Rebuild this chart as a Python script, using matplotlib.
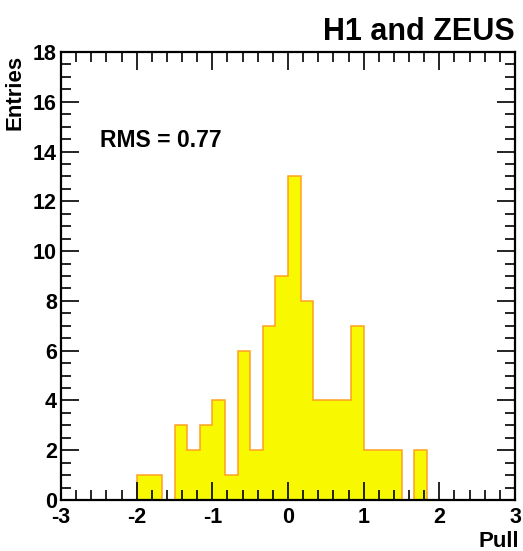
import numpy as np
import matplotlib
matplotlib.use("Agg")
import matplotlib.pyplot as plt
from matplotlib.ticker import MultipleLocator

# ── Data: pull distribution, 36 bins of width 1/6 from -3 to 3 ──────────────
x_range = (-3.0, 3.0)
counts = [0, 0, 0, 0, 0, 0,        # -3 .. -2
          1, 1, 0, 3, 2, 3,        # -2 .. -1
          4, 1, 6, 2, 7, 9,        # -1 .. 0
          13, 8, 4, 4, 4, 7,       # 0 .. 1
          2, 2, 2, 0, 2, 0,        # 1 .. 2
          0, 0, 0, 0, 0, 0]        # 2 .. 3
rms_label = "RMS = 0.77"
title = "H1 and ZEUS"

edges = np.linspace(x_range[0], x_range[1], len(counts) + 1)

plt.rcParams["font.family"] = ["Liberation Sans", "DejaVu Sans"]
plt.rcParams["font.weight"] = "bold"
plt.rcParams["axes.unicode_minus"] = False

fig = plt.figure(figsize=(5.23, 5.51), dpi=100)
ax = fig.add_axes([61 / 523, 1 - 500 / 551, 454 / 523, 448 / 551])

ax.stairs(counts, edges, fill=True, color="#f8f800", linewidth=0)
ax.stairs(counts, edges, color="#ffa020", linewidth=1.1)

ax.set_xlim(*x_range)
ax.set_ylim(0, 18)
ax.xaxis.set_major_locator(MultipleLocator(1))
ax.xaxis.set_minor_locator(MultipleLocator(0.2))
ax.yaxis.set_major_locator(MultipleLocator(2))
ax.yaxis.set_minor_locator(MultipleLocator(0.5))
ax.tick_params(which="both", direction="in", top=True, right=True,
               width=1.2, labelsize=15.5)
ax.tick_params(which="major", length=13)
ax.tick_params(axis="y", which="major", pad=3)
ax.tick_params(axis="x", which="major", pad=5)
ax.tick_params(which="minor", length=7)
for lab in ax.get_xticklabels() + ax.get_yticklabels():
    lab.set_fontweight("bold")
for sp in ax.spines.values():
    sp.set_linewidth(1.6)

ax.set_ylabel("Entries", fontsize=16, fontweight="bold", loc="top")
ax.yaxis.set_label_coords(-0.079, 0.993)
fig.text(519 / 523, 1 - 547 / 551, "Pull", fontsize=16, fontweight="bold",
         ha="right", va="baseline")

ax.text(-2.49, 14.2, rms_label, fontsize=16.5, fontweight="bold",
        ha="left", va="baseline")
fig.text(515 / 523, 1 - 40 / 551, title, fontsize=22, fontweight="bold",
         ha="right", va="baseline")

fig.savefig("out.png", dpi=100)
